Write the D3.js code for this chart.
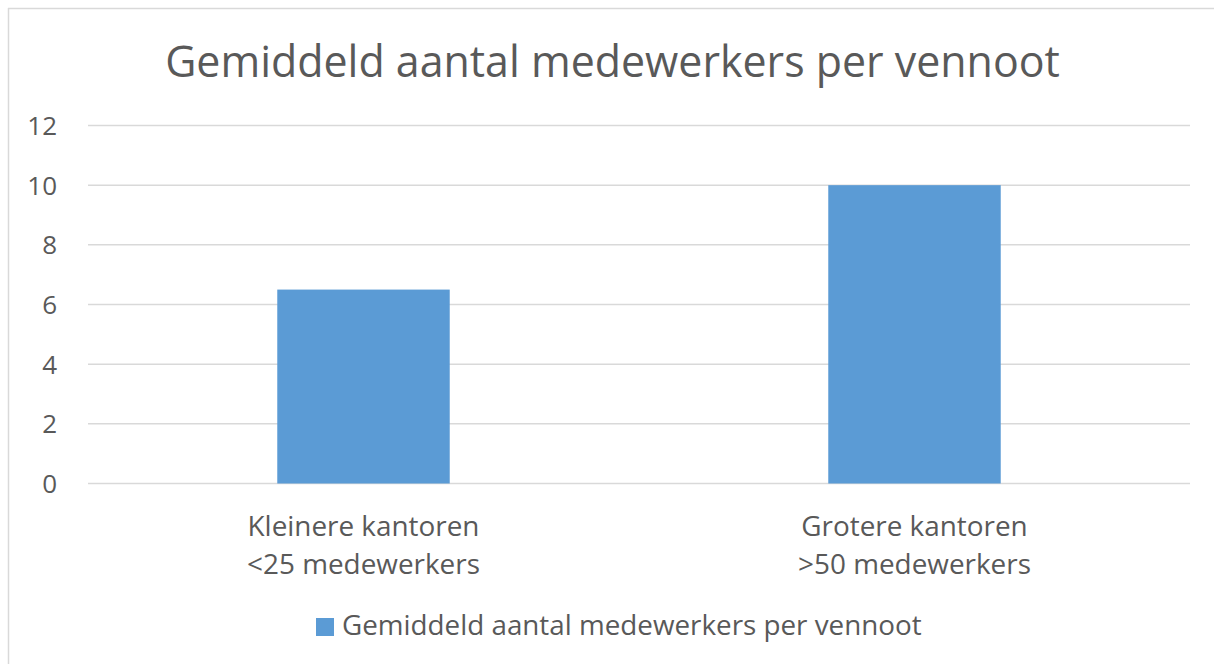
<!DOCTYPE html>
<html>
<head>
<meta charset="utf-8">
<script src="https://cdn.jsdelivr.net/npm/d3@7"></script>
<style>
  html, body { margin: 0; background: #fff; overflow: hidden; }
  svg { display: block; }
  text { font-family: "Open Sans", sans-serif; fill: #595959; }
</style>
</head>
<body>
<div id="chart"></div>
<script>
// data
var categories = ["Kleinere kantoren\n<25 medewerkers", "Grotere kantoren\n>50 medewerkers"];
var values = [6.5, 10];
var seriesName = "Gemiddeld aantal medewerkers per vennoot";
var chartTitle = "Gemiddeld aantal medewerkers per vennoot";
var yTicks = [0, 2, 4, 6, 8, 10, 12];

var svgWidth = 1214,
    svgHeight = 664,
    margin = {top: 125.5, left: 88, right: 24, bottom: 180.5},
    chartWidth = svgWidth - margin.left - margin.right,
    chartHeight = svgHeight - margin.top - margin.bottom,
    barColor = "#5b9bd5",
    gridColor = "#d9d9d9";

var svg = d3.select("#chart").append("svg")
    .attr("width", svgWidth)
    .attr("height", svgHeight);

// chart area border (only top and left edges are in the frame)
svg.append("line")
    .attr("x1", 8.5).attr("x2", 8.5)
    .attr("y1", 8).attr("y2", svgHeight)
    .attr("stroke", gridColor)
    .attr("stroke-width", 1.5);
svg.append("line")
    .attr("x1", 8).attr("x2", svgWidth)
    .attr("y1", 8.5).attr("y2", 8.5)
    .attr("stroke", gridColor)
    .attr("stroke-width", 1.5);

// font size that makes a text span the wanted width
function fitSize(sel, width) {
    var fs = parseFloat(sel.attr("font-size"));
    var len = sel.node().getComputedTextLength();
    return fs * width / len;
}

var chartGroup = svg.append("g")
    .attr("transform", `translate(${margin.left}, ${margin.top})`);

var xScale = d3.scaleBand()
    .domain(categories)
    .range([0, chartWidth])
    .paddingInner(0.687)
    .paddingOuter(0.3435);

var yScale = d3.scaleLinear()
    .domain([0, 12])
    .range([chartHeight, 0]);

// gridlines
chartGroup.append("g")
    .selectAll("line")
    .data(yTicks)
    .enter()
    .append("line")
        .attr("x1", 0)
        .attr("x2", chartWidth)
        .attr("y1", d => yScale(d))
        .attr("y2", d => yScale(d))
        .attr("stroke", gridColor)
        .attr("stroke-width", 1.5);

// y tick labels
chartGroup.append("g")
    .selectAll("text")
    .data(yTicks)
    .enter()
    .append("text")
        .attr("x", -31)
        .attr("y", d => yScale(d))
        .attr("dy", "0.36em")
        .attr("text-anchor", "end")
        .attr("font-size", 26)
        .text(d => d);

// bars
chartGroup.append("g")
    .selectAll("rect")
    .data(values)
    .enter()
    .append("rect")
        .attr("x", (d, i) => xScale(categories[i]))
        .attr("width", xScale.bandwidth())
        .attr("y", d => yScale(d))
        .attr("height", d => chartHeight - yScale(d))
        .attr("fill", barColor);

// category labels
var catLabels = chartGroup.append("g");
categories.forEach(function(c) {
    var cx = xScale(c) + xScale.bandwidth() / 2;
    c.split("\n").forEach(function(line, j) {
        catLabels.append("text")
            .attr("x", cx)
            .attr("y", chartHeight + 52 + j * 38)
            .attr("text-anchor", "middle")
            .attr("font-size", 24)
            .text(line);
    });
});
var catSize = fitSize(catLabels.select("text"), 232);
catLabels.selectAll("text").attr("font-size", catSize);

// title
var title = svg.append("text")
    .attr("x", 612.5)
    .attr("y", 77)
    .attr("text-anchor", "middle")
    .attr("font-size", 40)
    .text(chartTitle);
title.attr("font-size", fitSize(title, 895));

// legend
svg.append("rect")
    .attr("x", 316).attr("y", 618)
    .attr("width", 18).attr("height", 18)
    .attr("fill", barColor);
var legText = svg.append("text")
    .attr("x", 342)
    .attr("y", 635)
    .attr("font-size", 24)
    .text(seriesName);
legText.attr("font-size", fitSize(legText, 580));
</script>
</body>
</html>
